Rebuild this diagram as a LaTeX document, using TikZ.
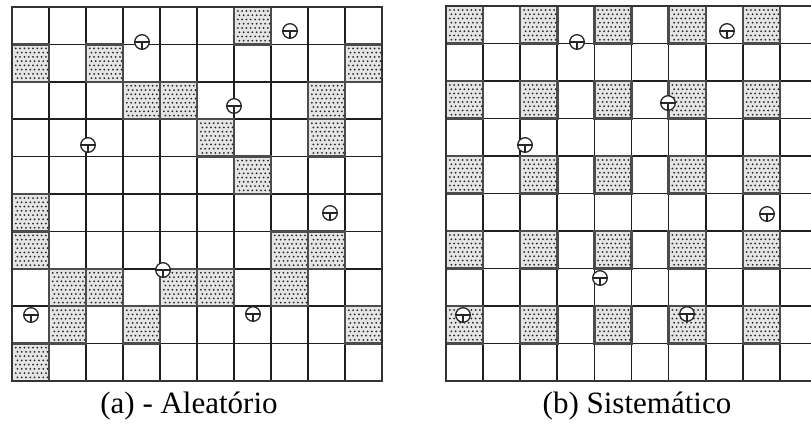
\documentclass[tikz,border=0pt]{standalone}
\usepackage{fontspec}
\setmainfont{Liberation Serif}
\newcommand\mycell[4]{%
  \filldraw[shadecell] ({#1},{#2}) rectangle ++({#3},{#4});
  \foreach \ii in {0,...,7}{\foreach \jj in {0,...,7}{
    \fill[dotcol] ({#1+3.8+\ii*4.3+mod(\jj,2)*1.6},{#2+4+\jj*4.25}) circle (1.0);}}%
}
\newcommand\myball[2]{%
  \draw[ball, fill=white] ({#1},{#2}) circle (7.3);
  \draw[ball] ({#1-7.3},{#2}) -- ({#1+7.3},{#2});
  \draw[ball] ({#1},{#2}) -- ({#1},{#2+7.3});
}
\begin{document}
\begin{tikzpicture}[x=1pt,y=-1pt,
  gridline/.style={line width=1.7pt, black!88},
  frame/.style={line width=2.8pt, black!80},
  shadecell/.style={fill=black!10, draw=black!70, line width=2.4pt},
  dotcol/.style={black!85},
  ball/.style={line width=1.3pt, black!85},
  caption/.style={font=\fontsize{31}{34}\selectfont, anchor=base, inner sep=0pt}]
\useasboundingbox (0,0) rectangle (811,425);
\clip (0,0) rectangle (811,425);
\fill[white] (0,0) rectangle (811,425);

% ---------- left grid (a) ----------
\foreach \i in {0,...,10}{
  \draw[gridline] ({12+\i*37},7) -- ({12+\i*37},381);
  \draw[gridline] (12,{7+\i*37.4}) -- (382,{7+\i*37.4});
}
\foreach \r/\c in {0/6,1/0,1/2,1/9,2/3,2/4,2/8,3/5,3/8,4/6,5/0,6/0,6/7,6/8,7/1,7/2,7/4,7/5,7/7,8/1,8/3,8/9,9/0}{
  \mycell{12+\c*37}{7+\r*37.4}{37}{37.4}
}
\draw[frame] (12,7) rectangle (382,381);
\foreach \bx/\by in {142/42,290/31,234/106,88/145,330/213,163/270,31/315,253/314}{
  \myball{\bx}{\by}
}
\node[caption] (capa) at (189,413) {(a) - Aleatório};

% ---------- right grid (b) ----------
\foreach \i in {0,...,10}{
  \draw[gridline] ({446+\i*37.1},6) -- ({446+\i*37.1},381);
  \draw[gridline] (446,{6+\i*37.5}) -- (817,{6+\i*37.5});
}
\foreach \r in {0,2,4,6,8}{
  \foreach \c in {0,2,4,6,8}{
    \mycell{446+\c*37.1}{6+\r*37.5}{37.1}{37.5}
  }
}
\draw[frame] (446,6) rectangle (817,381);
\foreach \bx/\by in {577/42,727/31,668/103,525/145,767/214,600/278,463/315,687/314}{
  \myball{\bx}{\by}
}
\node[caption] (capb) at (637,413) {(b) Sistemático};
\end{tikzpicture}
\end{document}
